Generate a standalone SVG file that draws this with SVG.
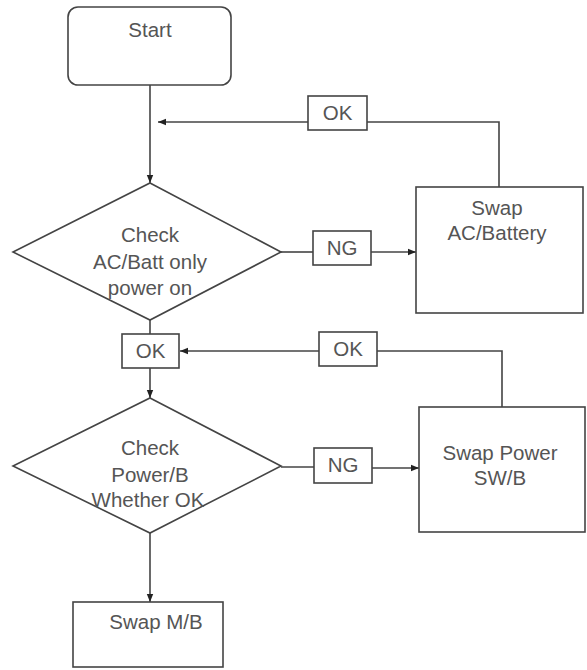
<svg xmlns="http://www.w3.org/2000/svg" width="587" height="670" viewBox="0 0 587 670">
<defs>
<marker id="ah" viewBox="0 0 10 10" refX="10" refY="5" markerWidth="8" markerHeight="8" markerUnits="userSpaceOnUse" orient="auto">
<path d="M0,1 L10,5 L0,9 z" fill="#222"/>
</marker>
<style>
.s{fill:#fff;stroke:#444;stroke-width:1.6}
.c{fill:none;stroke:#444;stroke-width:1.6}
.t{font-family:"Liberation Sans",Arial,sans-serif;font-size:20.5px;fill:#555;text-anchor:middle}
</style>
</defs>
<rect width="587" height="670" fill="#fff"/>
<g id="connectors">
<line class="c" x1="150" y1="85" x2="150" y2="183" marker-end="url(#ah)"/>
<polyline class="c" points="499,187 499,122 367,122"/>
<line class="c" x1="308" y1="122" x2="158" y2="122" marker-end="url(#ah)"/>
<line class="c" x1="281" y1="252" x2="313" y2="252"/>
<line class="c" x1="371" y1="252" x2="416" y2="252" marker-end="url(#ah)"/>
<line class="c" x1="150" y1="320" x2="150" y2="334"/>
<line class="c" x1="150" y1="368" x2="150" y2="398" marker-end="url(#ah)"/>
<polyline class="c" points="502,407 502,351 377,351"/>
<line class="c" x1="319" y1="351" x2="180" y2="351" marker-end="url(#ah)"/>
<line class="c" x1="281" y1="467" x2="314" y2="467"/>
<line class="c" x1="372" y1="468" x2="419" y2="468" marker-end="url(#ah)"/>
<line class="c" x1="150" y1="533" x2="150" y2="602" marker-end="url(#ah)"/>
</g>
<g id="start">
<rect class="s" x="68" y="7" width="163" height="78" rx="10"/>
<text class="t" x="150" y="37">Start</text>
</g>
<g id="check1">
<polygon class="s" points="150,183 281,252 150,320 13,252"/>
<text class="t" x="150" y="242">Check</text>
<text class="t" x="150" y="269">AC/Batt only</text>
<text class="t" x="150" y="295">power on</text>
</g>
<g id="ok1">
<rect class="s" x="308" y="96" width="59" height="34"/>
<text class="t" x="337.5" y="120">OK</text>
</g>
<g id="ng1">
<rect class="s" x="313" y="231" width="58" height="34"/>
<text class="t" x="342" y="255">NG</text>
</g>
<g id="swapac">
<rect class="s" x="416" y="187" width="167" height="126"/>
<text class="t" x="497" y="215">Swap</text>
<text class="t" x="497" y="240">AC/Battery</text>
</g>
<g id="ok2">
<rect class="s" x="122" y="334" width="57" height="34"/>
<text class="t" x="150.5" y="358">OK</text>
</g>
<g id="ok3">
<rect class="s" x="319" y="332" width="58" height="34"/>
<text class="t" x="348" y="356">OK</text>
</g>
<g id="check2">
<polygon class="s" points="150,398 281,466 150,533 13,466"/>
<text class="t" x="150" y="455">Check</text>
<text class="t" x="150" y="482">Power/B</text>
<text class="t" x="148" y="507">Whether OK</text>
</g>
<g id="ng2">
<rect class="s" x="314" y="448" width="58" height="35"/>
<text class="t" x="343" y="472">NG</text>
</g>
<g id="swappower">
<rect class="s" x="419" y="407" width="166" height="125"/>
<text class="t" x="500" y="460">Swap Power</text>
<text class="t" x="500" y="485">SW/B</text>
</g>
<g id="swapmb">
<rect class="s" x="73" y="602" width="150" height="65"/>
<text class="t" x="156" y="629">Swap M/B</text>
</g>
</svg>
